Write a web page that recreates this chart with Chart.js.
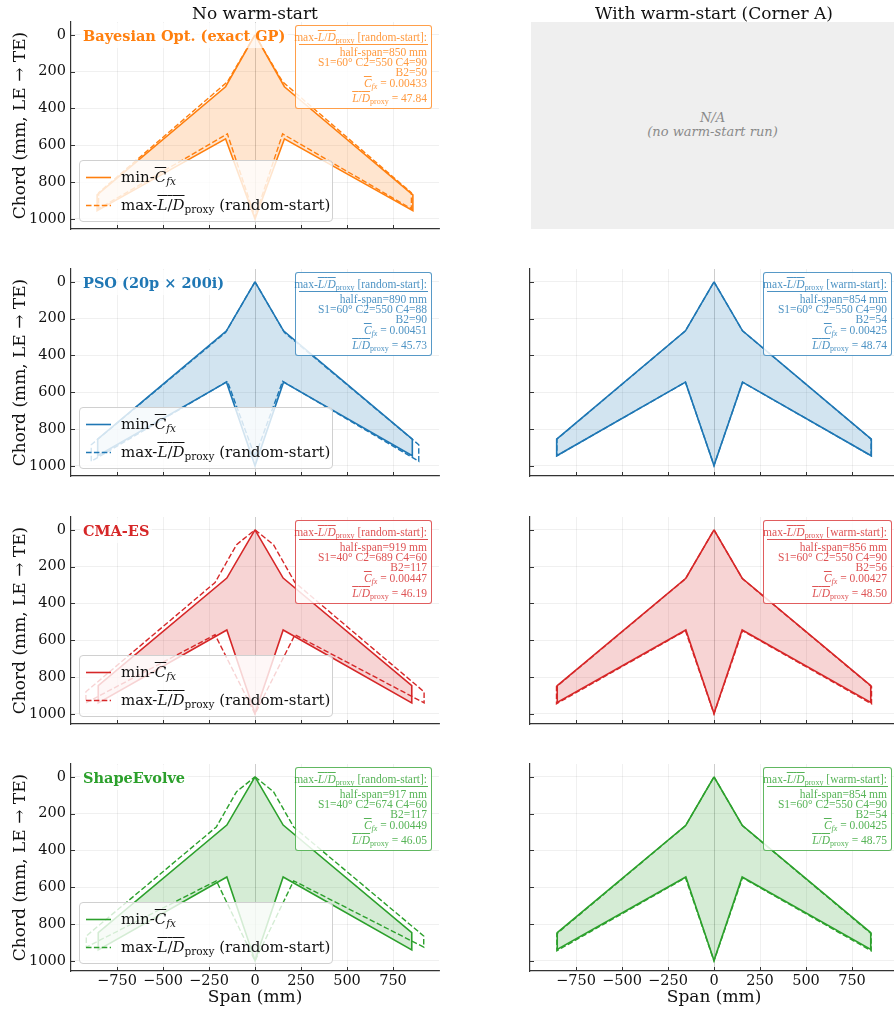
<!DOCTYPE html>
<html><head><meta charset="utf-8">
<script src="https://cdn.jsdelivr.net/npm/chart.js@4/dist/chart.umd.min.js"></script>
<style>
html,body{margin:0;padding:0;overflow:hidden;background:#fff}
body{width:894px;height:1011px;position:relative;font-family:'DejaVu Serif',serif}
canvas{position:absolute}
.ctitle{position:absolute;font-size:17px;color:#111;white-space:nowrap;transform:translateX(-50%);line-height:20px}
.ptitle{position:absolute;font-weight:bold;font-size:14.5px;line-height:17px;white-space:nowrap;padding:4px 3px;background:rgba(255,255,255,0.7)}
.ann{position:absolute;box-sizing:border-box;border:1px solid;border-radius:3px;background:rgba(255,255,255,0.85);height:84px;font-family:'Liberation Serif',serif;font-size:11.5px}
.al{position:absolute;right:4px;line-height:13px;height:13px;white-space:nowrap}
.rule{position:absolute;left:3px;right:3px;height:1px}
.ov{text-decoration:overline;text-decoration-thickness:1px}
sub{font-size:0.7em;vertical-align:-0.3em;line-height:0}
.leg{position:absolute;box-sizing:border-box;width:254px;height:62px;border:1px solid #d0d0d0;border-radius:4px;background:rgba(255,255,255,0.8);font-size:15px;color:#111}
.leg svg{position:absolute;left:5px}
.lt{position:absolute;left:41px;line-height:20px;white-space:nowrap}
.na{position:absolute;left:531px;top:22px;width:363px;height:207px;background:#efefef}
.nat{position:absolute;width:100%;text-align:center;font-style:italic;font-size:13px;color:#8a8a8a;line-height:14px}
</style></head><body>
<script>
// ---------------- data (span mm, chord mm) ----------------
const X_TICKS = [-750, -500, -250, 0, 250, 500, 750];
const Y_TICKS = [0, 200, 400, 600, 800, 1000];

// Bayesian Opt. (no warm-start)
const BO_MIN_SPAN  = [0, 160, 858, 858, 160, 0, -160, -858, -858, -160, 0];
const BO_MIN_CHORD = [0, 282, 870, 955, 565, 1000, 565, 955, 870, 282, 0];
const BO_LD_SPAN   = [0, 150, 850, 850, 150, 0, -150, -850, -850, -150, 0];
const BO_LD_CHORD  = [0, 255, 858, 945, 538, 990, 538, 945, 858, 255, 0];

// PSO
const PSO_MIN_SPAN  = [0, 155, 855, 855, 155, 0, -155, -855, -855, -155, 0];
const PSO_MIN_CHORD = [0, 266, 855, 945, 545, 1000, 545, 945, 855, 266, 0];
const PSO_LD_SPAN   = [0, 160, 890, 890, 150, 0, -150, -890, -890, -160, 0];
const PSO_LD_CHORD  = [0, 275, 885, 975, 540, 950, 540, 975, 885, 275, 0];
const PSO_WS_MIN_SPAN  = [0, 155, 855, 855, 155, 0, -155, -855, -855, -155, 0];
const PSO_WS_MIN_CHORD = [0, 266, 855, 945, 545, 998, 545, 945, 855, 266, 0];
const PSO_WS_LD_SPAN   = [0, 155, 854, 854, 155, 0, -155, -854, -854, -155, 0];
const PSO_WS_LD_CHORD  = [0, 266, 855, 945, 545, 998, 545, 945, 855, 266, 0];

// CMA-ES
const CMA_MIN_SPAN  = [0, 153, 852, 852, 153, 0, -153, -852, -852, -153, 0];
const CMA_MIN_CHORD = [0, 262, 846, 940, 544, 998, 544, 940, 846, 262, 0];
const CMA_LD_SPAN   = [0, 100, 217, 919, 919, 217, 0, -217, -919, -919, -217, -100, 0];
const CMA_LD_CHORD  = [0, 80, 286, 880, 940, 570, 1000, 570, 940, 880, 286, 80, 0];
const CMA_WS_MIN_SPAN  = [0, 153, 852, 852, 153, 0, -153, -852, -852, -153, 0];
const CMA_WS_MIN_CHORD = [0, 263, 846, 938, 544, 998, 544, 938, 846, 263, 0];
const CMA_WS_LD_SPAN   = [0, 155, 856, 856, 155, 0, -155, -856, -856, -155, 0];
const CMA_WS_LD_CHORD  = [0, 266, 852, 945, 548, 1000, 548, 945, 852, 266, 0];

// ShapeEvolve
const SE_MIN_SPAN  = [0, 153, 852, 852, 153, 0, -153, -852, -852, -153, 0];
const SE_MIN_CHORD = [0, 262, 846, 940, 544, 998, 544, 940, 846, 262, 0];
const SE_LD_SPAN   = [0, 100, 210, 917, 917, 210, 0, -210, -917, -917, -210, -100, 0];
const SE_LD_CHORD  = [0, 80, 272, 865, 925, 565, 1000, 565, 925, 865, 272, 80, 0];
const SE_WS_MIN_SPAN  = [0, 153, 852, 852, 153, 0, -153, -852, -852, -153, 0];
const SE_WS_MIN_CHORD = [0, 263, 846, 938, 544, 998, 544, 938, 846, 263, 0];
const SE_WS_LD_SPAN   = [0, 155, 854, 854, 155, 0, -155, -854, -854, -155, 0];
const SE_WS_LD_CHORD  = [0, 266, 852, 945, 548, 1000, 548, 945, 852, 266, 0];

// annotation texts: [tag, half-span, S1, C2, C4, B2, Cfx, L/D]
const BO_RS_INFO  = ['random-start', '850', '60', '550', '90', '50', '0.00433', '47.84'];
const PSO_RS_INFO = ['random-start', '890', '60', '550', '88', '90', '0.00451', '45.73'];
const PSO_WS_INFO = ['warm-start', '854', '60', '550', '90', '54', '0.00425', '48.74'];
const CMA_RS_INFO = ['random-start', '919', '40', '689', '60', '117', '0.00447', '46.19'];
const CMA_WS_INFO = ['warm-start', '856', '60', '550', '90', '56', '0.00427', '48.50'];
const SE_RS_INFO  = ['random-start', '917', '40', '674', '60', '117', '0.00449', '46.05'];
const SE_WS_INFO  = ['warm-start', '854', '60', '550', '90', '54', '0.00425', '48.75'];

const COL_TITLES = ['No warm-start', 'With warm-start (Corner A)'];
const ROW_TITLES = ['Bayesian Opt. (exact GP)', 'PSO (20p \u00d7 200i)', 'CMA-ES', 'ShapeEvolve'];
const COLORS = ['#ff7f0e', '#1f77b4', '#d62728', '#2ca02c'];

// ---------------- layout ----------------
const ROW_TOPS = [22, 269, 517, 764];
const PLOT_H = 207;

function rgba(hex, a) {
  const n = parseInt(hex.slice(1), 16);
  return `rgba(${(n >> 16) & 255},${(n >> 8) & 255},${n & 255},${a})`;
}
function pts(xs, ys) { return xs.map((x, i) => ({x: x, y: ys[i]})); }
function fmt(v) { return v < 0 ? '\u2212' + Math.abs(v) : String(v); }

const inwardTicks = {
  id: 'inwardTicks',
  afterDraw(chart) {
    const {ctx, chartArea: a, scales: {x, y}} = chart;
    ctx.save();
    ctx.strokeStyle = '#333';
    ctx.lineWidth = 1;
    ctx.beginPath();
    for (const t of x.ticks) { const px = Math.round(x.getPixelForValue(t.value)) + 0.5; ctx.moveTo(px, a.bottom); ctx.lineTo(px, a.bottom - 4); }
    for (const t of y.ticks) { const py = Math.round(y.getPixelForValue(t.value)) + 0.5; ctx.moveTo(a.left, py); ctx.lineTo(a.left + 4, py); }
    ctx.stroke();
    ctx.restore();
  }
};

function makePanel(col, row, minS, minC, ldS, ldC) {
  const color = COLORS[row];
  const isBottom = row === 3;
  const cv = document.createElement('canvas');
  const left = col === 0 ? 0 : 480;
  const w = col === 0 ? 445 : 418;
  const top = ROW_TOPS[row] - 14;
  const h = 14 + PLOT_H + (isBottom ? 40 : 14);
  cv.width = w; cv.height = h;
  cv.style.left = left + 'px'; cv.style.top = top + 'px';
  document.body.appendChild(cv);
  const gridColor = c => (c.tick && c.tick.value === 0 && c.scale.axis === 'x') ? 'rgba(140,140,140,0.55)' : 'rgba(0,0,0,0.075)';
  new Chart(cv, {
    type: 'line',
    data: {datasets: [
      {data: pts(minS, minC), borderColor: color, borderWidth: 1.6, backgroundColor: rgba(color, 0.2), fill: 'shape', pointRadius: 0, tension: 0},
      {data: pts(ldS, ldC), borderColor: color, borderWidth: 1.4, borderDash: [5.5, 2.4], fill: false, pointRadius: 0, tension: 0}
    ]},
    options: {
      responsive: false, animation: false, devicePixelRatio: 1,
      layout: {padding: {top: 14, right: col === 0 ? 6 : 0, bottom: isBottom ? 0 : 12, left: 0}},
      plugins: {legend: {display: false}, tooltip: {enabled: false}},
      scales: {
        x: {
          type: 'linear', min: -1000, max: 1000,
          afterBuildTicks: s => { s.ticks = X_TICKS.map(v => ({value: v})); },
          afterFit: s => { s.height = isBottom ? 40 : 2; },
          ticks: {display: isBottom, color: '#111', padding: 2, font: {family: 'DejaVu Serif', size: 14.5}, callback: v => fmt(v), maxRotation: 0, autoSkip: false},
          grid: {color: gridColor, lineWidth: 0.8, drawTicks: false},
          border: {display: true, color: '#333', width: 1.2},
          title: {display: isBottom, text: 'Span (mm)', color: '#111', font: {family: 'DejaVu Serif', size: 17}, padding: {top: 0, bottom: 3}}
        },
        y: {
          type: 'linear', min: -70, max: 1055, reverse: true,
          afterBuildTicks: s => { s.ticks = Y_TICKS.map(v => ({value: v})); },
          afterFit: s => { s.width = col === 0 ? 71 : 50; },
          ticks: {display: col === 0, color: '#111', padding: 5, font: {family: 'DejaVu Serif', size: 14.5}, callback: v => fmt(v), autoSkip: false},
          grid: {color: gridColor, lineWidth: 0.8, drawTicks: false},
          border: {display: true, color: '#333', width: 1.2},
          title: {display: col === 0, text: 'Chord (mm, LE \u2192 TE)', color: '#111', font: {family: 'DejaVu Serif', size: 17}, padding: {top: 10, bottom: 0}}
        }
      }
    },
    plugins: [inwardTicks]
  });
}

function addDiv(cls, style, html) {
  const d = document.createElement('div');
  d.className = cls; d.style.cssText = style; d.innerHTML = html;
  document.body.appendChild(d); return d;
}

const LD_HTML = '<span class="ov"><i>L</i>/<i>D</i></span><sub>proxy</sub>';
const CFX_HTML = '<span class="ov"><i>C</i></span><sub><i>fx</i></sub>';

function annot(col, row, info) {
  const color = COLORS[row];
  const left = col === 0 ? 295 : 763;
  const width = col === 0 ? 137 : 129;
  const top = ROW_TOPS[row] + 3;
  addDiv('ann', `left:${left}px;top:${top}px;width:${width}px;border-color:${rgba(color, 0.75)};color:${rgba(color, 0.8)}`,
    `<div class="al" style="top:4.5px">max-${LD_HTML} [${info[0]}]:</div>
     <div class="rule" style="top:17.5px;background:${rgba(color, 0.8)}"></div>
     <div class="al" style="top:19.5px">half-span=${info[1]} mm</div>
     <div class="al" style="top:29.5px">S1=${info[2]}\u00b0 C2=${info[3]} C4=${info[4]}</div>
     <div class="al" style="top:39.5px">B2=${info[5]}</div>
     <div class="al" style="top:51px">${CFX_HTML} = ${info[6]}</div>
     <div class="al" style="top:65.5px">${LD_HTML} = ${info[7]}</div>`);
}

function legend(row) {
  const color = COLORS[row];
  const top = ROW_TOPS[row] + 138;
  addDiv('leg', `left:79px;top:${top}px`,
    `<svg width="28" height="60" style="top:0"><line x1="1" y1="16.5" x2="26" y2="16.5" stroke="${color}" stroke-width="1.6"/>
      <line x1="1" y1="44.5" x2="26" y2="44.5" stroke="${color}" stroke-width="1.6" stroke-dasharray="5.5 2.4"/></svg>
     <div class="lt" style="top:6px">min-${CFX_HTML}</div>
     <div class="lt" style="top:34px">max-${LD_HTML} (random-start)</div>`);
}

// panels
makePanel(0, 0, BO_MIN_SPAN, BO_MIN_CHORD, BO_LD_SPAN, BO_LD_CHORD);
makePanel(0, 1, PSO_MIN_SPAN, PSO_MIN_CHORD, PSO_LD_SPAN, PSO_LD_CHORD);
makePanel(1, 1, PSO_WS_MIN_SPAN, PSO_WS_MIN_CHORD, PSO_WS_LD_SPAN, PSO_WS_LD_CHORD);
makePanel(0, 2, CMA_MIN_SPAN, CMA_MIN_CHORD, CMA_LD_SPAN, CMA_LD_CHORD);
makePanel(1, 2, CMA_WS_MIN_SPAN, CMA_WS_MIN_CHORD, CMA_WS_LD_SPAN, CMA_WS_LD_CHORD);
makePanel(0, 3, SE_MIN_SPAN, SE_MIN_CHORD, SE_LD_SPAN, SE_LD_CHORD);
makePanel(1, 3, SE_WS_MIN_SPAN, SE_WS_MIN_CHORD, SE_WS_LD_SPAN, SE_WS_LD_CHORD);

// N/A panel
addDiv('na', '', '<div class="nat" style="top:89px">N/A</div><div class="nat" style="top:103px">(no warm-start run)</div>');

// titles
addDiv('ctitle', 'left:255px;top:3px', COL_TITLES[0]);
addDiv('ctitle', 'left:714px;top:3px', COL_TITLES[1]);
ROW_TITLES.forEach((t, r) => addDiv('ptitle', `left:80px;top:${ROW_TOPS[r] + 1}px;color:${COLORS[r]}`, t));

// annotations & legends
annot(0, 0, BO_RS_INFO);
annot(0, 1, PSO_RS_INFO); annot(1, 1, PSO_WS_INFO);
annot(0, 2, CMA_RS_INFO); annot(1, 2, CMA_WS_INFO);
annot(0, 3, SE_RS_INFO);  annot(1, 3, SE_WS_INFO);
[0, 1, 2, 3].forEach(legend);
</script>
</body></html>
